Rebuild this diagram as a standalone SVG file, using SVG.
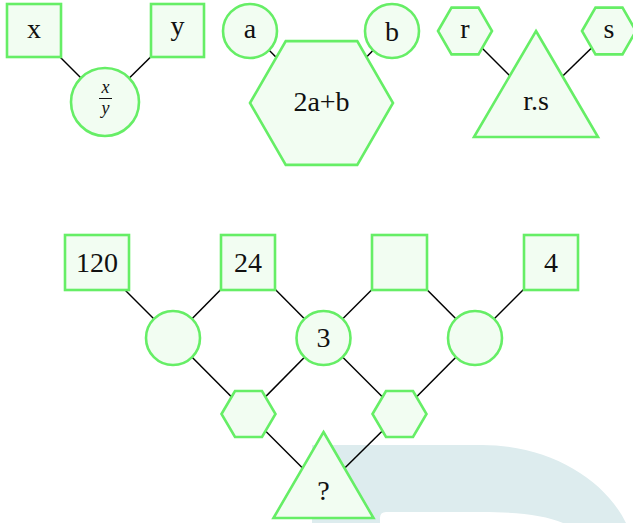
<svg xmlns="http://www.w3.org/2000/svg" width="633" height="523" viewBox="0 0 633 523">
<style>
.n{fill:#f2fdf2;stroke:#66ee66;stroke-width:2.6;stroke-linejoin:miter}
.c line{stroke:#000;stroke-width:1.5}
.t{font-family:"Liberation Serif","Times New Roman",serif;font-size:28px;fill:#111;text-anchor:middle}
.f{font-family:"Liberation Serif","Times New Roman",serif;font-size:18px;font-style:italic;fill:#111;text-anchor:middle}
</style>
<rect width="633" height="523" fill="#fff"/>
<path id="watermark" d="M312,445 H482 C548,445 604,478 626,523 H563 C545,515 515,512 482,512 H386 Q380,512 380,518 V523 H312 Z" fill="#ddecee"/>
<g id="connectors" class="c">
<line x1="34" y1="31" x2="105" y2="102"/>
<line x1="177" y1="31" x2="105" y2="102"/>
<line x1="250" y1="31" x2="321.5" y2="103"/>
<line x1="392" y1="31" x2="321.5" y2="103"/>
<line x1="465" y1="31" x2="536" y2="102"/>
<line x1="609" y1="31" x2="536" y2="102"/>
<line x1="97" y1="262" x2="173" y2="338"/>
<line x1="248" y1="262" x2="173" y2="338"/>
<line x1="248" y1="262" x2="323.5" y2="338"/>
<line x1="399.5" y1="262" x2="323.5" y2="338"/>
<line x1="399.5" y1="262" x2="475" y2="338"/>
<line x1="551" y1="262" x2="475" y2="338"/>
<line x1="173" y1="338" x2="248.5" y2="414"/>
<line x1="323.5" y1="338" x2="248.5" y2="414"/>
<line x1="323.5" y1="338" x2="399.5" y2="414"/>
<line x1="475" y1="338" x2="399.5" y2="414"/>
<line x1="248.5" y1="414" x2="323.5" y2="489"/>
<line x1="399.5" y1="414" x2="323.5" y2="489"/>
</g>
<g id="node-x"><rect class="n" x="7" y="4" width="54" height="53"/><text class="t" x="34" y="38">x</text></g>
<g id="node-y"><rect class="n" x="151" y="4" width="53" height="53"/><text class="t" x="177.5" y="35">y</text></g>
<g id="node-xy"><circle class="n" cx="105" cy="102" r="34"/><text class="f" x="105.5" y="92.5">x</text><line x1="99" y1="98.5" x2="112" y2="98.5" stroke="#111" stroke-width="1"/><text class="f" x="105.5" y="113.5">y</text></g>
<g id="node-a"><circle class="n" cx="250" cy="31" r="27"/><text class="t" x="250" y="38">a</text></g>
<g id="node-b"><circle class="n" cx="392" cy="31" r="27"/><text class="t" x="392" y="41">b</text></g>
<g id="node-2ab"><polygon class="n" points="250,103 285.75,41.1 357.25,41.1 393,103 357.25,164.9 285.75,164.9"/><text class="t" x="321.5" y="111">2a+b</text></g>
<g id="node-r"><polygon class="n" points="438,31 451.5,7.6 478.5,7.6 492,31 478.5,54.4 451.5,54.4"/><text class="t" x="465" y="38">r</text></g>
<g id="node-s"><polygon class="n" points="582,31 595.5,7.6 622.5,7.6 636,31 622.5,54.4 595.5,54.4"/><text class="t" x="609" y="38">s</text></g>
<g id="node-rs"><polygon class="n" points="536,31 598,137 474,137"/><text class="t" x="536" y="110">r.s</text></g>
<g id="node-120"><rect class="n" x="65" y="235" width="64" height="55"/><text class="t" x="97" y="272">120</text></g>
<g id="node-24"><rect class="n" x="221" y="235" width="54" height="55"/><text class="t" x="248" y="272">24</text></g>
<g id="node-empty"><rect class="n" x="372" y="235" width="55" height="55"/></g>
<g id="node-4"><rect class="n" x="524" y="235" width="54" height="55"/><text class="t" x="551" y="272">4</text></g>
<g id="node-c1"><circle class="n" cx="173" cy="338" r="27"/></g>
<g id="node-3"><circle class="n" cx="323.5" cy="338" r="27"/><text class="t" x="323.5" y="347">3</text></g>
<g id="node-c3"><circle class="n" cx="475" cy="338" r="27"/></g>
<g id="node-h1"><polygon class="n" points="221.5,414 235,391 262,391 275.5,414 262,437 235,437"/></g>
<g id="node-h2"><polygon class="n" points="372.5,414 386,391 413,391 426.5,414 413,437 386,437"/></g>
<g id="node-q"><polygon class="n" points="323.5,432 373.5,518 273.5,518"/><text class="t" x="323.5" y="500">?</text></g>
</svg>
